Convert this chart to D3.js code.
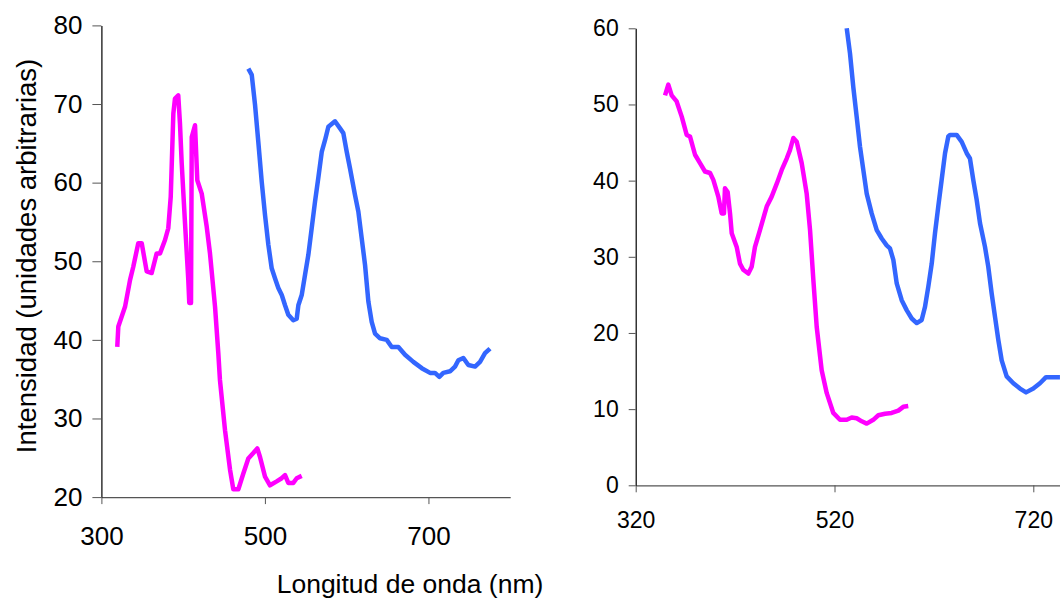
<!DOCTYPE html>
<html>
<head>
<meta charset="utf-8">
<script src="https://cdn.jsdelivr.net/npm/d3@7"></script>
<style>
  html, body { margin: 0; padding: 0; background: #fff; }
  svg { display: block; }
  .tick text { font-family: "Liberation Sans", Arial, sans-serif; fill: #000; }
  .title { font-family: "Liberation Sans", Arial, sans-serif; fill: #000; }
</style>
</head>
<body>
<svg id="chart" width="1060" height="601"></svg>
<script>
// ---- Left panel: 300–800 nm, intensity 20–80 ----
const leftXTicks = [300, 500, 700];
const leftYTicks = [20, 30, 40, 50, 60, 70, 80];

const leftPinkNm = [319.4, 320.7, 328.9, 335, 339, 345.1, 349.3, 355.4, 361.5, 367.6, 371.7, 377.8, 381.8, 384.8, 388, 390, 394, 396.1, 398.2, 402.3, 406.3, 407.5, 409.6, 410.5, 414.5, 417.3, 422.7, 428.8, 432.8, 439, 443, 445, 451.2, 457.3, 461.3, 467.5, 473.6, 479.7, 485.8, 490.7, 494, 500.1, 506.2, 514.4, 520.5, 524.6, 528.6, 534.7, 538.9, 545];
const leftPinkVal = [39.1, 41.7, 44.2, 47.6, 49.3, 52.3, 52.3, 48.7, 48.5, 51.0, 51.0, 52.7, 54.2, 58.2, 68.8, 70.7, 71.1, 67.5, 62.5, 54.8, 47.6, 44.7, 44.7, 65.8, 67.3, 60.3, 58.6, 54.4, 51.0, 44.2, 38.3, 34.9, 28.5, 23.5, 21.0, 21.0, 23.0, 24.9, 25.6, 26.2, 25.1, 22.6, 21.5, 22.0, 22.4, 22.8, 21.8, 21.8, 22.4, 22.7];

const leftBlueNm = [479.7, 483.9, 487.9, 491.9, 496.1, 500.1, 504.2, 508.3, 512.4, 516.4, 520.6, 524.6, 528.6, 534.7, 538.9, 540.9, 545, 549.1, 553.1, 557.2, 561.3, 565.3, 569.5, 573.5, 577.6, 585.7, 591.9, 595.9, 600.1, 604.1, 610.2, 614.3, 618.4, 622.5, 626.5, 630.6, 634.7, 640.8, 649, 655.1, 663.2, 671.4, 681.5, 691.8, 702, 708, 713.3, 718.2, 726.4, 732.5, 736.6, 742.7, 748.8, 757, 763.1, 769.2, 775.3];
const leftBlueVal = [74.5, 73.7, 69.9, 65.2, 60.1, 55.9, 52.1, 49.1, 47.8, 46.6, 45.7, 44.4, 43.2, 42.5, 42.7, 44.4, 45.7, 48.3, 50.8, 54.2, 57.6, 60.6, 63.9, 65.4, 67.1, 67.8, 66.9, 66.3, 63.9, 61.8, 58.4, 56.3, 52.9, 49.5, 44.9, 42.3, 40.8, 40.2, 40.0, 39.1, 39.1, 38.1, 37.2, 36.4, 35.8, 35.8, 35.3, 35.8, 36.0, 36.6, 37.4, 37.7, 36.8, 36.6, 37.2, 38.3, 38.9];

// ---- Right panel: from 320 nm, intensity 0–60 ----
const rightXTicks = [320, 520, 720];
const rightYTicks = [0, 10, 20, 30, 40, 50, 60];

const rightPinkNm = [349.5, 352.8, 356.2, 361.2, 366.3, 371.3, 374.6, 379.7, 384.7, 389.7, 394.8, 398.1, 403.1, 406.5, 408.8, 409.8, 412.5, 414.9, 416.6, 421.6, 424.9, 428.2, 433.3, 436.7, 440, 445, 451.8, 456.8, 461.9, 466.9, 471.9, 475.2, 478.6, 482, 487, 492, 495.4, 498.7, 502.1, 507.1, 512.2, 518.8, 525.5, 532.3, 537.3, 542.3, 547.4, 552.4, 559, 564.1, 570.8, 577.5, 584.2, 589.2, 594.2];
const rightPinkVal = [51.2, 52.6, 51.2, 50.4, 48.4, 46.0, 45.8, 43.4, 42.3, 41.2, 41.0, 40.1, 37.9, 35.7, 35.7, 39.0, 38.5, 35.7, 33.1, 31.3, 29.1, 28.3, 27.8, 28.7, 31.3, 33.5, 36.6, 37.9, 39.6, 41.4, 42.9, 44.0, 45.6, 45.1, 42.3, 38.3, 33.5, 27.0, 20.8, 15.1, 12.1, 9.5, 8.6, 8.6, 8.9, 8.8, 8.4, 8.1, 8.6, 9.2, 9.4, 9.5, 9.8, 10.3, 10.4];

const rightBlueNm = [532.3, 535.6, 538.9, 542.3, 545.6, 549, 552.4, 557.4, 562.5, 567.5, 572.5, 575.8, 579.2, 582.6, 587.6, 592.6, 597.7, 602.7, 607.7, 611, 614.4, 617.8, 621.1, 624.4, 627.8, 631.2, 634.5, 636.2, 642.9, 648, 653, 656.3, 659.6, 663, 666.4, 671.4, 674.7, 678.1, 681.5, 684.8, 688.2, 693.2, 699.9, 706.6, 712.7, 720, 726.7, 732.8, 740.1, 746.8];
const rightBlueVal = [60.0, 56.7, 52.3, 48.4, 44.5, 41.4, 38.3, 35.7, 33.5, 32.4, 31.5, 31.1, 29.6, 26.5, 24.3, 23.0, 21.9, 21.3, 21.7, 23.4, 26.1, 29.1, 33.1, 36.6, 40.1, 43.6, 45.8, 46.0, 46.0, 45.1, 43.6, 42.9, 40.1, 37.5, 34.4, 31.3, 28.7, 25.2, 22.1, 19.1, 16.4, 14.3, 13.4, 12.7, 12.2, 12.7, 13.4, 14.2, 14.2, 14.2];

const PINK = "#ff00ff";
const BLUE = "#3366ff";

const svg = d3.select("#chart");

function zip(xs, ys) { return xs.map((x, i) => [x, ys[i]]); }

function drawPanel(opt) {
  const g = svg.append("g");
  const x = opt.x, y = opt.y;

  const yAxis = d3.axisLeft(y).tickValues(opt.yTicks).tickSize(opt.yTickSize)
    .tickSizeOuter(0).tickPadding(opt.yPad).tickFormat(d3.format("d"));
  const xAxis = d3.axisBottom(x).tickValues(opt.xTicks).tickSize(opt.xTickSize)
    .tickSizeOuter(0).tickPadding(opt.xPad).tickFormat(d3.format("d"));

  const gx = g.append("g").attr("transform", `translate(0,${y.range()[0]})`).call(xAxis);
  gx.select(".domain").attr("stroke", "#555").attr("stroke-width", 1.2);
  gx.selectAll(".tick line").attr("stroke", "#555");
  gx.selectAll(".tick text").style("font-size", opt.fontSize + "px");

  const gy = g.append("g").attr("transform", `translate(${x.range()[0]},0)`).call(yAxis);
  gy.select(".domain").attr("stroke", "#000").attr("stroke-width", 1.2);
  gy.selectAll(".tick line").attr("stroke", "#555");
  gy.selectAll(".tick text").style("font-size", opt.fontSize + "px");

  const line = d3.line().x(d => x(d[0])).y(d => y(d[1])).curve(d3.curveLinear);
  opt.series.forEach(s => {
    g.append("path")
      .datum(zip(s.nm, s.val))
      .attr("fill", "none")
      .attr("stroke", s.color)
      .attr("stroke-width", 4.5)
      .attr("stroke-linejoin", "round")
      .attr("stroke-linecap", "butt")
      .attr("d", line);
  });
  return g;
}

// Left panel
const xL = d3.scaleLinear().domain([300, 800]).range([101.4, 510.2]);
const yL = d3.scaleLinear().domain([20, 80]).range([497.1, 25.4]);
drawPanel({
  x: xL, y: yL, xTicks: leftXTicks, yTicks: leftYTicks,
  yTickSize: 9, xTickSize: 7, yPad: 10, xPad: 22, fontSize: 26,
  series: [
    { nm: leftPinkNm, val: leftPinkVal, color: PINK },
    { nm: leftBlueNm, val: leftBlueVal, color: BLUE }
  ]
});

// Right panel (axis runs on past the right edge)
const xR = d3.scaleLinear().domain([320, 920]).range([635.7, 1232.1]);
const yR = d3.scaleLinear().domain([0, 60]).range([485.3, 28.3]);
drawPanel({
  x: xR, y: yR, xTicks: rightXTicks, yTicks: rightYTicks,
  yTickSize: 7, xTickSize: 7, yPad: 10, xPad: 19, fontSize: 23,
  series: [
    { nm: rightPinkNm, val: rightPinkVal, color: PINK },
    { nm: rightBlueNm, val: rightBlueVal, color: BLUE }
  ]
});

// Axis titles
svg.append("text").attr("class", "title")
  .attr("x", 410).attr("y", 593)
  .attr("text-anchor", "middle")
  .style("font-size", "26.5px")
  .text("Longitud de onda (nm)");

svg.append("text").attr("class", "title")
  .attr("transform", "translate(35.5,256) rotate(-90)")
  .attr("text-anchor", "middle")
  .style("font-size", "27.5px")
  .text("Intensidad (unidades arbitrarias)");
</script>
</body>
</html>
